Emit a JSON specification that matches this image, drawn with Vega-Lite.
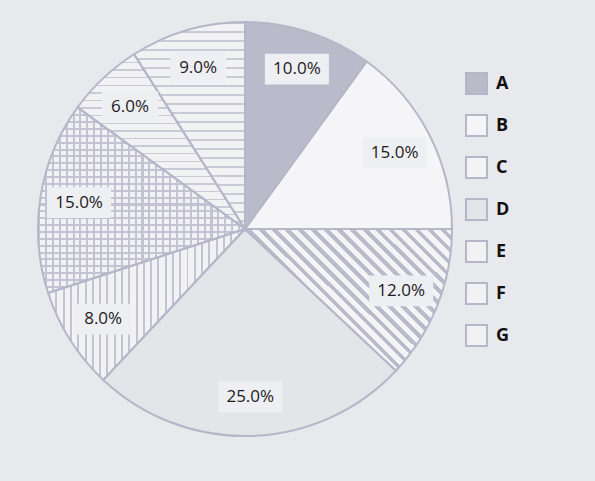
{
"$schema":"https://vega.github.io/schema/vega-lite/v6.json",
"width":466,"height":454,
"autosize":{"type":"none"},
"padding":{"left":12,"top":2,"right":117,"bottom":25},
"background":"#E8E9EC",
"config":{"view":{"stroke":null},"font":"Open Sans"},
"data":{"values":[
{"cat":"A","pct":0.10,"ord":1},
{"cat":"B","pct":0.15,"ord":2},
{"cat":"C","pct":0.12,"ord":3},
{"cat":"D","pct":0.25,"ord":4},
{"cat":"E","pct":0.08,"ord":5},
{"cat":"F","pct":0.15,"ord":6},
{"cat":"G","pct":0.06,"ord":7},
{"cat":"H","pct":0.09,"ord":8}]},
"transform":[
{"window":[{"op":"sum","field":"pct","as":"cum"}],"sort":[{"field":"ord"}],"frame":[null,0]},
{"calculate":"sin(2*PI*(datum.cum-datum.pct/2))","as":"sx"},
{"calculate":"cos(2*PI*(datum.cum-datum.pct/2))","as":"sy"}
],
"layer":[
{"mark":{"type":"arc","outerRadius":207,"strokeWidth":0},
 "encoding":{"theta":{"field":"pct","type":"quantitative","stack":true},"order":{"field":"ord","type":"quantitative"},
  "color":{"field":"cat","type":"nominal",
  "scale":{"domain":["A","B","C","D","E","F","G","H"],"range":["#B9BBCB","#F5F5F7","#F4F4F6","#E4E5E9","#F2F2F5","#F2F2F5","#F2F2F5","#F2F2F5"]},
  "legend":{"orient":"none","legendX":453,"legendY":70,"title":null,"values":["A","B","C","D","E","F","G"],"symbolType":"square","symbolSize":441,"symbolStrokeColor":"#B5B7C8","symbolStrokeWidth":2,"symbolOpacity":1,"labelFontSize":18,"labelFontWeight":"bold","labelColor":"#111111","labelFont":"Open Sans","rowPadding":13,"labelOffset":8,"padding":0}}}},
{"mark":{"type":"arc","outerRadius":207,"strokeWidth":0,"fill":{"gradient":"linear","x1":0,"y1":0,"x2":0.68,"y2":-0.4665,"stops":[
{"offset":0,"color":"rgba(255,255,255,0)"},{"offset":0,"color":"#B9BBCB"},{"offset":0.027,"color":"#B9BBCB"},{"offset":0.027,"color":"rgba(255,255,255,0)"},
{"offset":0.0625,"color":"rgba(255,255,255,0)"},{"offset":0.0625,"color":"#B9BBCB"},{"offset":0.0895,"color":"#B9BBCB"},{"offset":0.0895,"color":"rgba(255,255,255,0)"},
{"offset":0.125,"color":"rgba(255,255,255,0)"},{"offset":0.125,"color":"#B9BBCB"},{"offset":0.152,"color":"#B9BBCB"},{"offset":0.152,"color":"rgba(255,255,255,0)"},
{"offset":0.1875,"color":"rgba(255,255,255,0)"},{"offset":0.1875,"color":"#B9BBCB"},{"offset":0.2145,"color":"#B9BBCB"},{"offset":0.2145,"color":"rgba(255,255,255,0)"},
{"offset":0.25,"color":"rgba(255,255,255,0)"},{"offset":0.25,"color":"#B9BBCB"},{"offset":0.277,"color":"#B9BBCB"},{"offset":0.277,"color":"rgba(255,255,255,0)"},
{"offset":0.3125,"color":"rgba(255,255,255,0)"},{"offset":0.3125,"color":"#B9BBCB"},{"offset":0.3395,"color":"#B9BBCB"},{"offset":0.3395,"color":"rgba(255,255,255,0)"},
{"offset":0.375,"color":"rgba(255,255,255,0)"},{"offset":0.375,"color":"#B9BBCB"},{"offset":0.402,"color":"#B9BBCB"},{"offset":0.402,"color":"rgba(255,255,255,0)"},
{"offset":0.4375,"color":"rgba(255,255,255,0)"},{"offset":0.4375,"color":"#B9BBCB"},{"offset":0.4645,"color":"#B9BBCB"},{"offset":0.4645,"color":"rgba(255,255,255,0)"},
{"offset":0.5,"color":"rgba(255,255,255,0)"},{"offset":0.5,"color":"#B9BBCB"},{"offset":0.527,"color":"#B9BBCB"},{"offset":0.527,"color":"rgba(255,255,255,0)"},
{"offset":0.5625,"color":"rgba(255,255,255,0)"},{"offset":0.5625,"color":"#B9BBCB"},{"offset":0.5895,"color":"#B9BBCB"},{"offset":0.5895,"color":"rgba(255,255,255,0)"},
{"offset":0.625,"color":"rgba(255,255,255,0)"},{"offset":0.625,"color":"#B9BBCB"},{"offset":0.652,"color":"#B9BBCB"},{"offset":0.652,"color":"rgba(255,255,255,0)"},
{"offset":0.6875,"color":"rgba(255,255,255,0)"},{"offset":0.6875,"color":"#B9BBCB"},{"offset":0.7145,"color":"#B9BBCB"},{"offset":0.7145,"color":"rgba(255,255,255,0)"},
{"offset":0.75,"color":"rgba(255,255,255,0)"},{"offset":0.75,"color":"#B9BBCB"},{"offset":0.777,"color":"#B9BBCB"},{"offset":0.777,"color":"rgba(255,255,255,0)"},
{"offset":0.8125,"color":"rgba(255,255,255,0)"},{"offset":0.8125,"color":"#B9BBCB"},{"offset":0.8395,"color":"#B9BBCB"},{"offset":0.8395,"color":"rgba(255,255,255,0)"},
{"offset":0.875,"color":"rgba(255,255,255,0)"},{"offset":0.875,"color":"#B9BBCB"},{"offset":0.902,"color":"#B9BBCB"},{"offset":0.902,"color":"rgba(255,255,255,0)"},
{"offset":0.9375,"color":"rgba(255,255,255,0)"},{"offset":0.9375,"color":"#B9BBCB"},{"offset":0.9645,"color":"#B9BBCB"},{"offset":0.9645,"color":"rgba(255,255,255,0)"}
]}},
 "encoding":{"theta":{"field":"pct","type":"quantitative","stack":true},"order":{"field":"ord","type":"quantitative"},"fillOpacity":{"condition":{"test":"datum.cat==='C'","value":1},"value":0}}},
{"mark":{"type":"arc","outerRadius":207,"strokeWidth":0,"fill":{"gradient":"linear","x1":0,"y1":0,"x2":1,"y2":0,"stops":[
{"offset":0,"color":"rgba(255,255,255,0)"},{"offset":0,"color":"#C2C4D1"},{"offset":0.01,"color":"#C2C4D1"},{"offset":0.01,"color":"rgba(255,255,255,0)"},
{"offset":0.037,"color":"rgba(255,255,255,0)"},{"offset":0.037,"color":"#C2C4D1"},{"offset":0.047,"color":"#C2C4D1"},{"offset":0.047,"color":"rgba(255,255,255,0)"},
{"offset":0.074,"color":"rgba(255,255,255,0)"},{"offset":0.074,"color":"#C2C4D1"},{"offset":0.084,"color":"#C2C4D1"},{"offset":0.084,"color":"rgba(255,255,255,0)"},
{"offset":0.111,"color":"rgba(255,255,255,0)"},{"offset":0.111,"color":"#C2C4D1"},{"offset":0.121,"color":"#C2C4D1"},{"offset":0.121,"color":"rgba(255,255,255,0)"},
{"offset":0.148,"color":"rgba(255,255,255,0)"},{"offset":0.148,"color":"#C2C4D1"},{"offset":0.158,"color":"#C2C4D1"},{"offset":0.158,"color":"rgba(255,255,255,0)"},
{"offset":0.185,"color":"rgba(255,255,255,0)"},{"offset":0.185,"color":"#C2C4D1"},{"offset":0.195,"color":"#C2C4D1"},{"offset":0.195,"color":"rgba(255,255,255,0)"},
{"offset":0.222,"color":"rgba(255,255,255,0)"},{"offset":0.222,"color":"#C2C4D1"},{"offset":0.232,"color":"#C2C4D1"},{"offset":0.232,"color":"rgba(255,255,255,0)"},
{"offset":0.259,"color":"rgba(255,255,255,0)"},{"offset":0.259,"color":"#C2C4D1"},{"offset":0.269,"color":"#C2C4D1"},{"offset":0.269,"color":"rgba(255,255,255,0)"},
{"offset":0.296,"color":"rgba(255,255,255,0)"},{"offset":0.296,"color":"#C2C4D1"},{"offset":0.306,"color":"#C2C4D1"},{"offset":0.306,"color":"rgba(255,255,255,0)"},
{"offset":0.333,"color":"rgba(255,255,255,0)"},{"offset":0.333,"color":"#C2C4D1"},{"offset":0.343,"color":"#C2C4D1"},{"offset":0.343,"color":"rgba(255,255,255,0)"},
{"offset":0.37,"color":"rgba(255,255,255,0)"},{"offset":0.37,"color":"#C2C4D1"},{"offset":0.38,"color":"#C2C4D1"},{"offset":0.38,"color":"rgba(255,255,255,0)"},
{"offset":0.407,"color":"rgba(255,255,255,0)"},{"offset":0.407,"color":"#C2C4D1"},{"offset":0.417,"color":"#C2C4D1"},{"offset":0.417,"color":"rgba(255,255,255,0)"},
{"offset":0.444,"color":"rgba(255,255,255,0)"},{"offset":0.444,"color":"#C2C4D1"},{"offset":0.454,"color":"#C2C4D1"},{"offset":0.454,"color":"rgba(255,255,255,0)"},
{"offset":0.481,"color":"rgba(255,255,255,0)"},{"offset":0.481,"color":"#C2C4D1"},{"offset":0.491,"color":"#C2C4D1"},{"offset":0.491,"color":"rgba(255,255,255,0)"},
{"offset":0.518,"color":"rgba(255,255,255,0)"},{"offset":0.518,"color":"#C2C4D1"},{"offset":0.528,"color":"#C2C4D1"},{"offset":0.528,"color":"rgba(255,255,255,0)"},
{"offset":0.555,"color":"rgba(255,255,255,0)"},{"offset":0.555,"color":"#C2C4D1"},{"offset":0.565,"color":"#C2C4D1"},{"offset":0.565,"color":"rgba(255,255,255,0)"},
{"offset":0.592,"color":"rgba(255,255,255,0)"},{"offset":0.592,"color":"#C2C4D1"},{"offset":0.602,"color":"#C2C4D1"},{"offset":0.602,"color":"rgba(255,255,255,0)"},
{"offset":0.629,"color":"rgba(255,255,255,0)"},{"offset":0.629,"color":"#C2C4D1"},{"offset":0.639,"color":"#C2C4D1"},{"offset":0.639,"color":"rgba(255,255,255,0)"},
{"offset":0.666,"color":"rgba(255,255,255,0)"},{"offset":0.666,"color":"#C2C4D1"},{"offset":0.676,"color":"#C2C4D1"},{"offset":0.676,"color":"rgba(255,255,255,0)"},
{"offset":0.703,"color":"rgba(255,255,255,0)"},{"offset":0.703,"color":"#C2C4D1"},{"offset":0.713,"color":"#C2C4D1"},{"offset":0.713,"color":"rgba(255,255,255,0)"},
{"offset":0.74,"color":"rgba(255,255,255,0)"},{"offset":0.74,"color":"#C2C4D1"},{"offset":0.75,"color":"#C2C4D1"},{"offset":0.75,"color":"rgba(255,255,255,0)"},
{"offset":0.777,"color":"rgba(255,255,255,0)"},{"offset":0.777,"color":"#C2C4D1"},{"offset":0.787,"color":"#C2C4D1"},{"offset":0.787,"color":"rgba(255,255,255,0)"},
{"offset":0.814,"color":"rgba(255,255,255,0)"},{"offset":0.814,"color":"#C2C4D1"},{"offset":0.824,"color":"#C2C4D1"},{"offset":0.824,"color":"rgba(255,255,255,0)"},
{"offset":0.851,"color":"rgba(255,255,255,0)"},{"offset":0.851,"color":"#C2C4D1"},{"offset":0.861,"color":"#C2C4D1"},{"offset":0.861,"color":"rgba(255,255,255,0)"},
{"offset":0.888,"color":"rgba(255,255,255,0)"},{"offset":0.888,"color":"#C2C4D1"},{"offset":0.898,"color":"#C2C4D1"},{"offset":0.898,"color":"rgba(255,255,255,0)"},
{"offset":0.925,"color":"rgba(255,255,255,0)"},{"offset":0.925,"color":"#C2C4D1"},{"offset":0.935,"color":"#C2C4D1"},{"offset":0.935,"color":"rgba(255,255,255,0)"},
{"offset":0.962,"color":"rgba(255,255,255,0)"},{"offset":0.962,"color":"#C2C4D1"},{"offset":0.972,"color":"#C2C4D1"},{"offset":0.972,"color":"rgba(255,255,255,0)"}
]}},
 "encoding":{"theta":{"field":"pct","type":"quantitative","stack":true},"order":{"field":"ord","type":"quantitative"},"fillOpacity":{"condition":{"test":"datum.cat==='E'","value":1},"value":0}}},
{"mark":{"type":"arc","outerRadius":207,"strokeWidth":0,"fill":{"gradient":"linear","x1":0,"y1":0,"x2":1,"y2":0,"stops":[
{"offset":0,"color":"rgba(255,255,255,0)"},{"offset":0,"color":"#C2C4D1"},{"offset":0.01,"color":"#C2C4D1"},{"offset":0.01,"color":"rgba(255,255,255,0)"},
{"offset":0.0333,"color":"rgba(255,255,255,0)"},{"offset":0.0333,"color":"#C2C4D1"},{"offset":0.0433,"color":"#C2C4D1"},{"offset":0.0433,"color":"rgba(255,255,255,0)"},
{"offset":0.0667,"color":"rgba(255,255,255,0)"},{"offset":0.0667,"color":"#C2C4D1"},{"offset":0.0767,"color":"#C2C4D1"},{"offset":0.0767,"color":"rgba(255,255,255,0)"},
{"offset":0.1,"color":"rgba(255,255,255,0)"},{"offset":0.1,"color":"#C2C4D1"},{"offset":0.11,"color":"#C2C4D1"},{"offset":0.11,"color":"rgba(255,255,255,0)"},
{"offset":0.1333,"color":"rgba(255,255,255,0)"},{"offset":0.1333,"color":"#C2C4D1"},{"offset":0.1433,"color":"#C2C4D1"},{"offset":0.1433,"color":"rgba(255,255,255,0)"},
{"offset":0.1667,"color":"rgba(255,255,255,0)"},{"offset":0.1667,"color":"#C2C4D1"},{"offset":0.1767,"color":"#C2C4D1"},{"offset":0.1767,"color":"rgba(255,255,255,0)"},
{"offset":0.2,"color":"rgba(255,255,255,0)"},{"offset":0.2,"color":"#C2C4D1"},{"offset":0.21,"color":"#C2C4D1"},{"offset":0.21,"color":"rgba(255,255,255,0)"},
{"offset":0.2333,"color":"rgba(255,255,255,0)"},{"offset":0.2333,"color":"#C2C4D1"},{"offset":0.2433,"color":"#C2C4D1"},{"offset":0.2433,"color":"rgba(255,255,255,0)"},
{"offset":0.2667,"color":"rgba(255,255,255,0)"},{"offset":0.2667,"color":"#C2C4D1"},{"offset":0.2767,"color":"#C2C4D1"},{"offset":0.2767,"color":"rgba(255,255,255,0)"},
{"offset":0.3,"color":"rgba(255,255,255,0)"},{"offset":0.3,"color":"#C2C4D1"},{"offset":0.31,"color":"#C2C4D1"},{"offset":0.31,"color":"rgba(255,255,255,0)"},
{"offset":0.3333,"color":"rgba(255,255,255,0)"},{"offset":0.3333,"color":"#C2C4D1"},{"offset":0.3433,"color":"#C2C4D1"},{"offset":0.3433,"color":"rgba(255,255,255,0)"},
{"offset":0.3667,"color":"rgba(255,255,255,0)"},{"offset":0.3667,"color":"#C2C4D1"},{"offset":0.3767,"color":"#C2C4D1"},{"offset":0.3767,"color":"rgba(255,255,255,0)"},
{"offset":0.4,"color":"rgba(255,255,255,0)"},{"offset":0.4,"color":"#C2C4D1"},{"offset":0.41,"color":"#C2C4D1"},{"offset":0.41,"color":"rgba(255,255,255,0)"},
{"offset":0.4333,"color":"rgba(255,255,255,0)"},{"offset":0.4333,"color":"#C2C4D1"},{"offset":0.4433,"color":"#C2C4D1"},{"offset":0.4433,"color":"rgba(255,255,255,0)"},
{"offset":0.4667,"color":"rgba(255,255,255,0)"},{"offset":0.4667,"color":"#C2C4D1"},{"offset":0.4767,"color":"#C2C4D1"},{"offset":0.4767,"color":"rgba(255,255,255,0)"},
{"offset":0.5,"color":"rgba(255,255,255,0)"},{"offset":0.5,"color":"#C2C4D1"},{"offset":0.51,"color":"#C2C4D1"},{"offset":0.51,"color":"rgba(255,255,255,0)"},
{"offset":0.5333,"color":"rgba(255,255,255,0)"},{"offset":0.5333,"color":"#C2C4D1"},{"offset":0.5433,"color":"#C2C4D1"},{"offset":0.5433,"color":"rgba(255,255,255,0)"},
{"offset":0.5667,"color":"rgba(255,255,255,0)"},{"offset":0.5667,"color":"#C2C4D1"},{"offset":0.5767,"color":"#C2C4D1"},{"offset":0.5767,"color":"rgba(255,255,255,0)"},
{"offset":0.6,"color":"rgba(255,255,255,0)"},{"offset":0.6,"color":"#C2C4D1"},{"offset":0.61,"color":"#C2C4D1"},{"offset":0.61,"color":"rgba(255,255,255,0)"},
{"offset":0.6333,"color":"rgba(255,255,255,0)"},{"offset":0.6333,"color":"#C2C4D1"},{"offset":0.6433,"color":"#C2C4D1"},{"offset":0.6433,"color":"rgba(255,255,255,0)"},
{"offset":0.6667,"color":"rgba(255,255,255,0)"},{"offset":0.6667,"color":"#C2C4D1"},{"offset":0.6767,"color":"#C2C4D1"},{"offset":0.6767,"color":"rgba(255,255,255,0)"},
{"offset":0.7,"color":"rgba(255,255,255,0)"},{"offset":0.7,"color":"#C2C4D1"},{"offset":0.71,"color":"#C2C4D1"},{"offset":0.71,"color":"rgba(255,255,255,0)"},
{"offset":0.7333,"color":"rgba(255,255,255,0)"},{"offset":0.7333,"color":"#C2C4D1"},{"offset":0.7433,"color":"#C2C4D1"},{"offset":0.7433,"color":"rgba(255,255,255,0)"},
{"offset":0.7667,"color":"rgba(255,255,255,0)"},{"offset":0.7667,"color":"#C2C4D1"},{"offset":0.7767,"color":"#C2C4D1"},{"offset":0.7767,"color":"rgba(255,255,255,0)"},
{"offset":0.8,"color":"rgba(255,255,255,0)"},{"offset":0.8,"color":"#C2C4D1"},{"offset":0.81,"color":"#C2C4D1"},{"offset":0.81,"color":"rgba(255,255,255,0)"},
{"offset":0.8333,"color":"rgba(255,255,255,0)"},{"offset":0.8333,"color":"#C2C4D1"},{"offset":0.8433,"color":"#C2C4D1"},{"offset":0.8433,"color":"rgba(255,255,255,0)"},
{"offset":0.8667,"color":"rgba(255,255,255,0)"},{"offset":0.8667,"color":"#C2C4D1"},{"offset":0.8767,"color":"#C2C4D1"},{"offset":0.8767,"color":"rgba(255,255,255,0)"},
{"offset":0.9,"color":"rgba(255,255,255,0)"},{"offset":0.9,"color":"#C2C4D1"},{"offset":0.91,"color":"#C2C4D1"},{"offset":0.91,"color":"rgba(255,255,255,0)"},
{"offset":0.9333,"color":"rgba(255,255,255,0)"},{"offset":0.9333,"color":"#C2C4D1"},{"offset":0.9433,"color":"#C2C4D1"},{"offset":0.9433,"color":"rgba(255,255,255,0)"},
{"offset":0.9667,"color":"rgba(255,255,255,0)"},{"offset":0.9667,"color":"#C2C4D1"},{"offset":0.9767,"color":"#C2C4D1"},{"offset":0.9767,"color":"rgba(255,255,255,0)"}
]}},
 "encoding":{"theta":{"field":"pct","type":"quantitative","stack":true},"order":{"field":"ord","type":"quantitative"},"fillOpacity":{"condition":{"test":"datum.cat==='F'","value":1},"value":0}}},
{"mark":{"type":"arc","outerRadius":207,"strokeWidth":0,"fill":{"gradient":"linear","x1":0,"y1":0,"x2":0,"y2":1,"stops":[
{"offset":0,"color":"rgba(255,255,255,0)"},{"offset":0,"color":"#C2C4D1"},{"offset":0.011,"color":"#C2C4D1"},{"offset":0.011,"color":"rgba(255,255,255,0)"},
{"offset":0.037,"color":"rgba(255,255,255,0)"},{"offset":0.037,"color":"#C2C4D1"},{"offset":0.048,"color":"#C2C4D1"},{"offset":0.048,"color":"rgba(255,255,255,0)"},
{"offset":0.074,"color":"rgba(255,255,255,0)"},{"offset":0.074,"color":"#C2C4D1"},{"offset":0.085,"color":"#C2C4D1"},{"offset":0.085,"color":"rgba(255,255,255,0)"},
{"offset":0.111,"color":"rgba(255,255,255,0)"},{"offset":0.111,"color":"#C2C4D1"},{"offset":0.122,"color":"#C2C4D1"},{"offset":0.122,"color":"rgba(255,255,255,0)"},
{"offset":0.148,"color":"rgba(255,255,255,0)"},{"offset":0.148,"color":"#C2C4D1"},{"offset":0.159,"color":"#C2C4D1"},{"offset":0.159,"color":"rgba(255,255,255,0)"},
{"offset":0.185,"color":"rgba(255,255,255,0)"},{"offset":0.185,"color":"#C2C4D1"},{"offset":0.196,"color":"#C2C4D1"},{"offset":0.196,"color":"rgba(255,255,255,0)"},
{"offset":0.222,"color":"rgba(255,255,255,0)"},{"offset":0.222,"color":"#C2C4D1"},{"offset":0.233,"color":"#C2C4D1"},{"offset":0.233,"color":"rgba(255,255,255,0)"},
{"offset":0.259,"color":"rgba(255,255,255,0)"},{"offset":0.259,"color":"#C2C4D1"},{"offset":0.27,"color":"#C2C4D1"},{"offset":0.27,"color":"rgba(255,255,255,0)"},
{"offset":0.296,"color":"rgba(255,255,255,0)"},{"offset":0.296,"color":"#C2C4D1"},{"offset":0.307,"color":"#C2C4D1"},{"offset":0.307,"color":"rgba(255,255,255,0)"},
{"offset":0.333,"color":"rgba(255,255,255,0)"},{"offset":0.333,"color":"#C2C4D1"},{"offset":0.344,"color":"#C2C4D1"},{"offset":0.344,"color":"rgba(255,255,255,0)"},
{"offset":0.37,"color":"rgba(255,255,255,0)"},{"offset":0.37,"color":"#C2C4D1"},{"offset":0.381,"color":"#C2C4D1"},{"offset":0.381,"color":"rgba(255,255,255,0)"},
{"offset":0.407,"color":"rgba(255,255,255,0)"},{"offset":0.407,"color":"#C2C4D1"},{"offset":0.418,"color":"#C2C4D1"},{"offset":0.418,"color":"rgba(255,255,255,0)"},
{"offset":0.444,"color":"rgba(255,255,255,0)"},{"offset":0.444,"color":"#C2C4D1"},{"offset":0.455,"color":"#C2C4D1"},{"offset":0.455,"color":"rgba(255,255,255,0)"},
{"offset":0.481,"color":"rgba(255,255,255,0)"},{"offset":0.481,"color":"#C2C4D1"},{"offset":0.492,"color":"#C2C4D1"},{"offset":0.492,"color":"rgba(255,255,255,0)"},
{"offset":0.518,"color":"rgba(255,255,255,0)"},{"offset":0.518,"color":"#C2C4D1"},{"offset":0.529,"color":"#C2C4D1"},{"offset":0.529,"color":"rgba(255,255,255,0)"},
{"offset":0.555,"color":"rgba(255,255,255,0)"},{"offset":0.555,"color":"#C2C4D1"},{"offset":0.566,"color":"#C2C4D1"},{"offset":0.566,"color":"rgba(255,255,255,0)"},
{"offset":0.592,"color":"rgba(255,255,255,0)"},{"offset":0.592,"color":"#C2C4D1"},{"offset":0.603,"color":"#C2C4D1"},{"offset":0.603,"color":"rgba(255,255,255,0)"},
{"offset":0.629,"color":"rgba(255,255,255,0)"},{"offset":0.629,"color":"#C2C4D1"},{"offset":0.64,"color":"#C2C4D1"},{"offset":0.64,"color":"rgba(255,255,255,0)"},
{"offset":0.666,"color":"rgba(255,255,255,0)"},{"offset":0.666,"color":"#C2C4D1"},{"offset":0.677,"color":"#C2C4D1"},{"offset":0.677,"color":"rgba(255,255,255,0)"},
{"offset":0.703,"color":"rgba(255,255,255,0)"},{"offset":0.703,"color":"#C2C4D1"},{"offset":0.714,"color":"#C2C4D1"},{"offset":0.714,"color":"rgba(255,255,255,0)"},
{"offset":0.74,"color":"rgba(255,255,255,0)"},{"offset":0.74,"color":"#C2C4D1"},{"offset":0.751,"color":"#C2C4D1"},{"offset":0.751,"color":"rgba(255,255,255,0)"},
{"offset":0.777,"color":"rgba(255,255,255,0)"},{"offset":0.777,"color":"#C2C4D1"},{"offset":0.788,"color":"#C2C4D1"},{"offset":0.788,"color":"rgba(255,255,255,0)"},
{"offset":0.814,"color":"rgba(255,255,255,0)"},{"offset":0.814,"color":"#C2C4D1"},{"offset":0.825,"color":"#C2C4D1"},{"offset":0.825,"color":"rgba(255,255,255,0)"},
{"offset":0.851,"color":"rgba(255,255,255,0)"},{"offset":0.851,"color":"#C2C4D1"},{"offset":0.862,"color":"#C2C4D1"},{"offset":0.862,"color":"rgba(255,255,255,0)"},
{"offset":0.888,"color":"rgba(255,255,255,0)"},{"offset":0.888,"color":"#C2C4D1"},{"offset":0.899,"color":"#C2C4D1"},{"offset":0.899,"color":"rgba(255,255,255,0)"},
{"offset":0.925,"color":"rgba(255,255,255,0)"},{"offset":0.925,"color":"#C2C4D1"},{"offset":0.936,"color":"#C2C4D1"},{"offset":0.936,"color":"rgba(255,255,255,0)"},
{"offset":0.962,"color":"rgba(255,255,255,0)"},{"offset":0.962,"color":"#C2C4D1"},{"offset":0.973,"color":"#C2C4D1"},{"offset":0.973,"color":"rgba(255,255,255,0)"}
]}},
 "encoding":{"theta":{"field":"pct","type":"quantitative","stack":true},"order":{"field":"ord","type":"quantitative"},"fillOpacity":{"condition":{"test":"datum.cat==='F'","value":1},"value":0}}},
{"mark":{"type":"arc","outerRadius":207,"strokeWidth":0,"fill":{"gradient":"linear","x1":0,"y1":0,"x2":0,"y2":1,"stops":[
{"offset":0,"color":"rgba(255,255,255,0)"},{"offset":0,"color":"#C8CAD6"},{"offset":0.0075,"color":"#C8CAD6"},{"offset":0.0075,"color":"rgba(255,255,255,0)"},
{"offset":0.0435,"color":"rgba(255,255,255,0)"},{"offset":0.0435,"color":"#C8CAD6"},{"offset":0.051,"color":"#C8CAD6"},{"offset":0.051,"color":"rgba(255,255,255,0)"},
{"offset":0.087,"color":"rgba(255,255,255,0)"},{"offset":0.087,"color":"#C8CAD6"},{"offset":0.0945,"color":"#C8CAD6"},{"offset":0.0945,"color":"rgba(255,255,255,0)"},
{"offset":0.1305,"color":"rgba(255,255,255,0)"},{"offset":0.1305,"color":"#C8CAD6"},{"offset":0.138,"color":"#C8CAD6"},{"offset":0.138,"color":"rgba(255,255,255,0)"},
{"offset":0.174,"color":"rgba(255,255,255,0)"},{"offset":0.174,"color":"#C8CAD6"},{"offset":0.1815,"color":"#C8CAD6"},{"offset":0.1815,"color":"rgba(255,255,255,0)"},
{"offset":0.2175,"color":"rgba(255,255,255,0)"},{"offset":0.2175,"color":"#C8CAD6"},{"offset":0.225,"color":"#C8CAD6"},{"offset":0.225,"color":"rgba(255,255,255,0)"},
{"offset":0.261,"color":"rgba(255,255,255,0)"},{"offset":0.261,"color":"#C8CAD6"},{"offset":0.2685,"color":"#C8CAD6"},{"offset":0.2685,"color":"rgba(255,255,255,0)"},
{"offset":0.3045,"color":"rgba(255,255,255,0)"},{"offset":0.3045,"color":"#C8CAD6"},{"offset":0.312,"color":"#C8CAD6"},{"offset":0.312,"color":"rgba(255,255,255,0)"},
{"offset":0.348,"color":"rgba(255,255,255,0)"},{"offset":0.348,"color":"#C8CAD6"},{"offset":0.3555,"color":"#C8CAD6"},{"offset":0.3555,"color":"rgba(255,255,255,0)"},
{"offset":0.3915,"color":"rgba(255,255,255,0)"},{"offset":0.3915,"color":"#C8CAD6"},{"offset":0.399,"color":"#C8CAD6"},{"offset":0.399,"color":"rgba(255,255,255,0)"},
{"offset":0.435,"color":"rgba(255,255,255,0)"},{"offset":0.435,"color":"#C8CAD6"},{"offset":0.4425,"color":"#C8CAD6"},{"offset":0.4425,"color":"rgba(255,255,255,0)"},
{"offset":0.4785,"color":"rgba(255,255,255,0)"},{"offset":0.4785,"color":"#C8CAD6"},{"offset":0.486,"color":"#C8CAD6"},{"offset":0.486,"color":"rgba(255,255,255,0)"},
{"offset":0.522,"color":"rgba(255,255,255,0)"},{"offset":0.522,"color":"#C8CAD6"},{"offset":0.5295,"color":"#C8CAD6"},{"offset":0.5295,"color":"rgba(255,255,255,0)"},
{"offset":0.5655,"color":"rgba(255,255,255,0)"},{"offset":0.5655,"color":"#C8CAD6"},{"offset":0.573,"color":"#C8CAD6"},{"offset":0.573,"color":"rgba(255,255,255,0)"},
{"offset":0.609,"color":"rgba(255,255,255,0)"},{"offset":0.609,"color":"#C8CAD6"},{"offset":0.6165,"color":"#C8CAD6"},{"offset":0.6165,"color":"rgba(255,255,255,0)"},
{"offset":0.6525,"color":"rgba(255,255,255,0)"},{"offset":0.6525,"color":"#C8CAD6"},{"offset":0.66,"color":"#C8CAD6"},{"offset":0.66,"color":"rgba(255,255,255,0)"},
{"offset":0.696,"color":"rgba(255,255,255,0)"},{"offset":0.696,"color":"#C8CAD6"},{"offset":0.7035,"color":"#C8CAD6"},{"offset":0.7035,"color":"rgba(255,255,255,0)"},
{"offset":0.7395,"color":"rgba(255,255,255,0)"},{"offset":0.7395,"color":"#C8CAD6"},{"offset":0.747,"color":"#C8CAD6"},{"offset":0.747,"color":"rgba(255,255,255,0)"},
{"offset":0.783,"color":"rgba(255,255,255,0)"},{"offset":0.783,"color":"#C8CAD6"},{"offset":0.7905,"color":"#C8CAD6"},{"offset":0.7905,"color":"rgba(255,255,255,0)"},
{"offset":0.8265,"color":"rgba(255,255,255,0)"},{"offset":0.8265,"color":"#C8CAD6"},{"offset":0.834,"color":"#C8CAD6"},{"offset":0.834,"color":"rgba(255,255,255,0)"},
{"offset":0.87,"color":"rgba(255,255,255,0)"},{"offset":0.87,"color":"#C8CAD6"},{"offset":0.8775,"color":"#C8CAD6"},{"offset":0.8775,"color":"rgba(255,255,255,0)"},
{"offset":0.9135,"color":"rgba(255,255,255,0)"},{"offset":0.9135,"color":"#C8CAD6"},{"offset":0.921,"color":"#C8CAD6"},{"offset":0.921,"color":"rgba(255,255,255,0)"},
{"offset":0.957,"color":"rgba(255,255,255,0)"},{"offset":0.957,"color":"#C8CAD6"},{"offset":0.9645,"color":"#C8CAD6"},{"offset":0.9645,"color":"rgba(255,255,255,0)"}
]}},
 "encoding":{"theta":{"field":"pct","type":"quantitative","stack":true},"order":{"field":"ord","type":"quantitative"},"fillOpacity":{"condition":{"test":"datum.cat==='G'||datum.cat==='H'","value":1},"value":0}}},
{"mark":{"type":"arc","outerRadius":207,"fillOpacity":0,"stroke":"#B5B7C8","strokeWidth":2},
 "encoding":{"theta":{"field":"pct","type":"quantitative","stack":true},"order":{"field":"ord","type":"quantitative"}}},
{"mark":{"type":"point","filled":true,"fill":"#EEEFF2","opacity":1,"strokeWidth":0,"size":4096},
 "encoding":{
  "x":{"field":"sx","type":"quantitative","scale":{"domain":[-1.3869,1.3869],"nice":false,"zero":false},"axis":null},
  "y":{"field":"sy","type":"quantitative","scale":{"domain":[-1.35119,1.35119],"nice":false,"zero":false},"axis":null},
  "shape":{"condition":{"test":"datum.pct<0.1","value":"M-0.88,-0.48H0.88V0.48H-0.88Z"},"value":"M-1,-0.48H1V0.48H-1Z"}}},
{"mark":{"type":"text","radius":168,"fontSize":17,"font":"Open Sans","fill":"#1C1C1C"},
 "encoding":{"theta":{"field":"pct","type":"quantitative","stack":true},"order":{"field":"ord","type":"quantitative"},"text":{"field":"pct","type":"quantitative","format":".1%"}}}
]
}
